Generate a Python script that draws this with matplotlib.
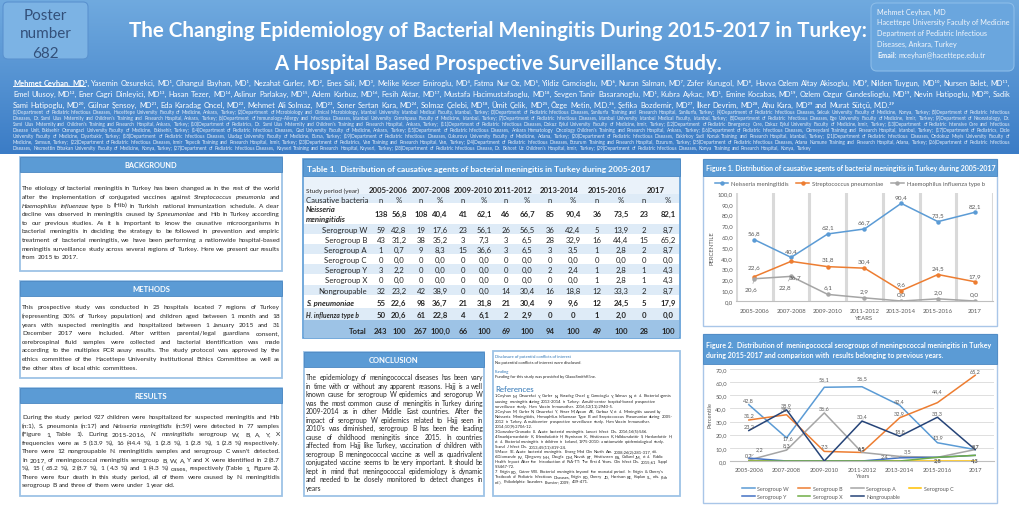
import numpy as np
import matplotlib
matplotlib.use('Agg')
import matplotlib.pyplot as plt
from matplotlib.patches import Rectangle, FancyBboxPatch

FONT = ['Lato', 'DejaVu Sans']
plt.rcParams['font.family'] = FONT

# ------------------------------------------------------------------ data
periods = ['2005-2006', '2007-2008', '2009-2010', '2011-2012', '2013-2014', '2015-2016', '2017']

nm_n = [138, 108, 41, 46, 85, 36, 23]
nm_pct = [56.8, 40.4, 62.1, 66.7, 90.4, 73.5, 82.1]
sp_n = [55, 98, 21, 21, 9, 12, 5]
sp_pct = [22.6, 36.7, 31.8, 30.4, 9.6, 24.5, 17.9]
hib_n = [50, 61, 4, 2, 0, 1, 0]
hib_pct = [20.6, 22.8, 6.1, 2.9, 0.0, 2.0, 0.0]
hib_pct_txt = ['20,6', '22,8', '6,1', '2,9', '0', '2,0', '0,0']

W_n = [59, 19, 23, 26, 36, 5, 2]
sg_W = [42.8, 17.6, 56.1, 56.5, 42.4, 13.9, 8.7]
B_n = [43, 38, 3, 3, 28, 16, 15]
sg_B = [31.2, 35.2, 7.3, 6.5, 32.9, 44.4, 65.2]
A_n = [1, 9, 15, 3, 3, 1, 2]
sg_A = [0.7, 8.3, 36.6, 6.5, 3.5, 2.8, 8.7]
C_n = [0, 0, 0, 0, 0, 0, 0]
sg_C = [0.0, 0.0, 0.0, 0.0, 0.0, 0.0, 0.0]
Y_n = [3, 0, 0, 0, 2, 1, 1]
sg_Y = [2.2, 0.0, 0.0, 0.0, 2.4, 2.8, 4.3]
X_n = [0, 0, 0, 0, 0, 1, 1]
sg_X = [0.0, 0.0, 0.0, 0.0, 0.0, 2.8, 4.3]
NG_n = [32, 42, 0, 14, 16, 12, 2]
sg_NG = [23.2, 38.9, 0.0, 30.4, 18.8, 33.3, 8.7]
total_n = [243, 267, 66, 69, 94, 49, 28]
total_pct_txt = ['100', '100,0', '100', '100', '100', '100', '100']

# ------------------------------------------------------------------ canvas
W, H = 1020, 510
fig = plt.figure(figsize=(W / 100, H / 100), dpi=100)
fig.patch.set_facecolor('white')
ax = fig.add_axes([0, 0, 1, 1])
ax.set_xlim(0, W)
ax.set_ylim(H, 0)
ax.axis('off')
R = fig.canvas.get_renderer()

_cache = {}


def tw(s, size, weight='normal', style='normal'):
    key = (s, round(size, 3), weight, style)
    if key not in _cache:
        t = ax.text(0, 0, s, fontsize=size, fontweight=weight, fontstyle=style)
        _cache[key] = t.get_window_extent(R).width
        t.remove()
    return _cache[key]


def space(size, weight='normal'):
    return tw('a a', size, weight) - tw('aa', size, weight)


def bl(y, size):
    # baseline position so that capitals are centred on y
    return y + 0.5 * size


def box(x0, y0, x1, y1, fc='none', ec='none', lw=0.8, z=1, rnd=None):
    if rnd:
        p = FancyBboxPatch((x0, y0), x1 - x0, y1 - y0,
                           boxstyle='round,pad=0,rounding_size=%g' % rnd,
                           fc=fc, ec=ec, lw=lw, zorder=z)
    else:
        p = Rectangle((x0, y0), x1 - x0, y1 - y0, fc=fc, ec=ec, lw=lw, zorder=z)
    ax.add_patch(p)


IT, BD = '*', '¤'


def parse(line):
    out = []
    it = bd = False
    for w in line.split():
        while w and w[0] in (IT, BD):
            if w[0] == IT:
                it = True
            else:
                bd = True
            w = w[1:]
        e_it = e_bd = False
        while w and w[-1] in (IT, BD):
            if w[-1] == IT:
                e_it = True
            else:
                e_bd = True
            w = w[:-1]
        out.append((w, it, bd))
        if e_it:
            it = False
        if e_bd:
            bd = False
    return out


def wid(w, it, b, size):
    return tw(w, size, 'bold' if b else 'normal', 'italic' if it else 'normal')


def natural(line, size):
    ws = parse(line)
    return sum(wid(w, i, b, size) for w, i, b in ws) + space(size) * (len(ws) - 1)


def fit_size(lines, width, base=10.0):
    m = max(natural(l, base) for l in lines)
    return base * width / m * 0.995


def para(lines, x0, x1, y0, dy, size, color='#262626', justify=True, last_left=True, z=5):
    pos = []
    for i, line in enumerate(lines):
        y = y0 + i * dy
        ws = parse(line)
        wd = [wid(w, it, b, size) for w, it, b in ws]
        if justify and len(ws) > 1 and not (last_left and i == len(lines) - 1):
            gap = (x1 - x0 - sum(wd)) / (len(ws) - 1)
        else:
            gap = space(size)
        x = x0
        for (w, it, b), d in zip(ws, wd):
            ax.text(x, bl(y, size), w, fontsize=size, fontweight='bold' if b else 'normal',
                    fontstyle='italic' if it else 'normal', color=color,
                    va='baseline', ha='left', zorder=z)
            pos.append((w, x, x + d, y, b))
            x += d + gap
    return pos


def fit_text(x0, x1, y, s, weight='normal', style='normal', color='#262626', z=6):
    size = 10 * (x1 - x0) / tw(s, 10, weight, style)
    ax.text(x0, bl(y, size), s, fontsize=size, fontweight=weight, fontstyle=style, color=color,
            va='baseline', ha='left', zorder=z)
    return size


def wrap(text, width, size):
    words = text.split()
    lines, cur, curw = [], [], 0
    sp = space(size)
    for w in words:
        d = tw(w, size)
        if cur and curw + sp + d > width:
            lines.append(' '.join(cur))
            cur, curw = [w], d
        else:
            curw = d if not cur else curw + sp + d
            cur.append(w)
    if cur:
        lines.append(' '.join(cur))
    return lines


# ------------------------------------------------------------------ header band
top = np.array([0x70, 0xaa, 0xdf]) / 255
bot = np.array([0x3b, 0x7c, 0xc6]) / 255
g = np.linspace(0, 1, 200)[:, None, None]
grad = top * (1 - g) + bot * g
ax.imshow(grad, extent=(0, W, 155, 0), aspect='auto', zorder=0, interpolation='bilinear')
ax.set_xlim(0, W)
ax.set_ylim(H, 0)

box(3, 3, 88, 60, fc='#7cb3e4', ec='#5a92cf', lw=0.8, z=1, rnd=5)
for yy, s in zip([15, 33, 52], ['Poster', 'number', '682']):
    ax.text(45.5, bl(yy, 11), s, fontsize=11, color='#33507a', ha='center', va='baseline', zorder=3)

box(871, 4, 1014, 72, fc='#6aa6de', ec='#8cbde9', lw=0.8, z=1, rnd=6)
cs = 10 * 132 / tw('Hacettepe University Faculty of Medicine', 10)
contact = ['Mehmet Ceyhan, MD', 'Hacettepe University Faculty of Medicine',
           'Department of Pediatric Infectious', 'Diseases, Ankara, Turkey']
for i, s in enumerate(contact):
    ax.text(877, bl(12 + i * 10.8, cs), s, fontsize=cs, color='#f2f6fb', va='baseline', zorder=3)
ax.text(877, bl(55, cs), 'Email:', fontsize=cs, fontweight='bold', color='#f2f6fb', va='baseline', zorder=3)
ax.text(877 + tw('Email: ', cs, 'bold'), bl(55, cs), 'mceyhan@hacettepe.edu.tr', fontsize=cs,
        color='#f2f6fb', va='baseline', zorder=3)

t1 = 'The Changing Epidemiology of Bacterial Meningitis During 2015-2017 in Turkey:'
t2 = 'A Hospital Based Prospective Surveillance Study.'
ts_ = 10 * 736 / tw(t1, 10, 'bold')
ax.text(498, bl(30, ts_), t1, fontsize=ts_, fontweight='bold', color='white', ha='center', va='baseline', zorder=3)
ax.text(498, bl(63, ts_), t2, fontsize=ts_, fontweight='bold', color='white', ha='center', va='baseline', zorder=3)

authors = [
    '¤Mehmet Ceyhan, MD¹,¤ Yasemin Ozsurekci, MD¹, Cihangul Bayhan, MD¹, Nezahat Gurler, MD², Enes Sali, MD³, '
    'Melike Keser Emiroglu, MD⁴, Fatma Nur Oz, MD⁵, Yildiz Camcioglu, MD⁶, Nuran Salman, MD⁷, Zafer Kurugol, MD⁸, '
    'Havva Ozlem Altay Akisoglu, MD⁹, Nilden Tuygun, MD¹⁰, Nursen Belet, MD¹¹,',
    'Emel Ulusoy, MD¹², Ener Cagri Dinleyici, MD¹³, Hasan Tezer, MD¹⁴, Aslinur Parlakay, MD¹⁵, Adem Karbuz, MD¹⁶, '
    'Fesih Aktar, MD¹⁷, Mustafa Hacimustafaoglu, MD¹⁸, Sevgen Tanir Basaranoglu, MD¹, Kubra Aykac, MD¹, '
    'Emine Kocabas, MD¹⁹, Ozlem Ozgur Gundeslioglu, MD¹⁹, Nevin Hatipoglu, MD²⁰, Sadik',
    'Sami Hatipoglu, MD²⁰, Gülnar Şensoy, MD²¹, Eda Karadag Oncel, MD²², Mehmet Ali Solmaz, MD²³, '
    'Soner Sertan Kara, MD²⁴, Solmaz Çelebi, MD¹⁸, Ümit Çelik, MD²⁵, Özge Metin, M.D.²⁶, Şefika Bozdemir, MD²⁷, '
    'İlker Devrim, MD²⁸, Ahu Kara, MD²⁹ and Murat Sütçü, M.D.²⁹',
]
asz = fit_size(authors[:2], 997)
pos = para(authors, 13, 1010, 83, 11, asz, color='white', justify=True, last_left=True)
bx = [p for p in pos if p[4]]
ax.plot([bx[0][1], bx[-1][2] - tw('¹,', asz, 'bold')], [bx[0][3] + asz * 0.5 + 1.2] * 2,
        color='white', lw=0.7, zorder=5)

affil = (
    "(1)Department of Pediatric Infectious Diseases, Hacettepe University Faculty of Medicine, Ankara, Turkey; "
    "(2)Department of Microbiology and Clinical Microbiology, Istanbul University Istanbul Medical Faculty, Istanbul, Turkey; "
    "(3)Department of Pediatric Infectious Diseases, Sanliurfa Training and Research Hospital, Sanliurfa, Turkey; "
    "(4)Department of Pediatric Infectious Diseases, Selcuk University Faculty of Medicine, Konya, Turkey; "
    "(5)Department of Pediatric Infectious Diseases, Dr. Sami Ulus Maternity and Children's Training and Research Hospital, Ankara, Turkey; "
    "(6)Department of Immunology-Allergy and Infectious Diseases, Istanbul University Cerrahpasa Faculty of Medicine, Istanbul, Turkey; "
    "(7)Department of Pediatric Infectious Diseases, Istanbul University Istanbul Medical Faculty, Istanbul, Turkey; "
    "(8)Department of Pediatric Infectious Diseases, Ege University Faculty of Medicine, Izmir, Turkey; "
    "(9)Department of Neonatology, Dr. Sami Ulus Maternity and Children's Training and Research Hospital, Ankara, Turkey; "
    "(10)Department of Pediatrics, Dr. Sami Ulus Maternity and Children's Training and Research Hospital, Ankara, Turkey; "
    "(11)Department of Pediatric Infectious Diseases, Dokuz Eylul University Faculty of Medicine, Izmir, Turkey; "
    "(12)Department of Pediatric Emergency Care, Dokuz Eylul University Faculty of Medicine, Izmir, Turkey; "
    "(13)Department of Pediatric Intensive Care and Infectious Disease Unit, Eskisehir Osmangazi University Faculty of Medicine, Eskisehir, Turkey; "
    "(14)Department of Pediatric Infectious Diseases, Gazi University Faculty of Medicine, Ankara, Turkey; "
    "(15)Department of Pediatric Infectious Diseases, Ankara Hematology Oncology Children's Training and Research Hospital, Ankara, Turkey; "
    "(16)Department of Pediatric Infectious Diseases, Okmeydani Training and Research Hospital, Istanbul, Turkey; "
    "(17)Department of Pediatrics, Dicle University Faculty of Medicine, Diyarbakir, Turkey; "
    "(18)Department of Pediatric Infectious Diseases, Uludag University Faculty of Medicine, Bursa, Turkey; "
    "(19)Department of Pediatric Infectious Diseases, Cukurova University Faculty of Medicine, Adana, Turkey; "
    "(20)Department of Pediatric Infectious Diseases, Bakirkoy Sadi Konuk Training and Research Hospital, Istanbul, Turkey; "
    "(21)Department of Pediatric Infectious Diseases, Ondokuz Mayis University Faculty of Medicine, Samsun, Turkey; "
    "(22)Department of Pediatric Infectious Diseases, Izmir Tepecik Training and Research Hospital, Izmir, Turkey; "
    "(23)Department of Pediatrics, Van Training and Research Hospital, Van, Turkey; "
    "(24)Department of Pediatric Infectious Diseases, Erzurum Training and Research Hospital, Erzurum, Turkey; "
    "(25)Department of Pediatric Infectious Diseases, Adana Numune Training and Research Hospital, Adana, Turkey; "
    "(26)Department of Pediatric Infectious Diseases, Necmettin Erbakan University Faculty of Medicine, Konya, Turkey; "
    "(27)Department of Pediatric Infectious Diseases, Kayseri Training and Research Hospital, Kayseri, Turkey; "
    "(28)Department of Pediatric Infectious Disease, Dr. Behcet Uz Children's Hospital, Izmir, Turkey; "
    "(29)Department of Pediatric Infectious Diseases, Konya Training and Research Hospital, Konya, Turkey"
)
fsz = 10 * 7 * 990 / natural(affil, 10) * 0.97
alines = wrap(affil, 997, fsz)
while len(alines) > 7:
    fsz *= 0.98
    alines = wrap(affil, 997, fsz)
para(alines, 13, 1010, 112, 6, fsz, color='#e3edf9', justify=True, last_left=True)

# ------------------------------------------------------------------ panels
PB = '#5b9bd5'
PE = '#4a87c2'
BORD = '#9dc3e6'


def panel(x0, y0, x1, y1, hb, title, tw_px):
    box(x0, y0, x1, y1, fc='white', ec=BORD, lw=1.3, z=1)
    box(x0, y0, x1, hb, fc=PB, ec=PE, lw=0.6, z=2)
    s = 10 * tw_px / tw(title, 10, 'bold')
    ax.text((x0 + x1) / 2, bl((y0 + hb) / 2, s), title, fontsize=s, fontweight='bold', color='white',
            ha='center', va='baseline', zorder=3)


panel(20, 158, 282, 272, 173, 'BACKGROUND', 53)
panel(20, 282, 282, 379, 297, 'METHODS', 38)
panel(20, 389, 282, 497, 404, 'RESULTS', 33)
panel(304, 353, 484, 497, 368, 'CONCLUSION', 50)

background = [
    'The etiology of bacterial meningitis in Turkey has been changed as in the rest of the world',
    'after the implementation of conjugated vaccines against *Streptococcus pneumonia* and',
    '*Haemophilus influenzae* type b (Hib) in Turkish national immunization schedule. A clear',
    'decline was observed in meningitis caused by *S.pneumoniae* and Hib in Turkey according',
    'to our previous studies. As it is important to know the causative microorganisms in',
    'bacterial meningitis in deciding the strategy to be followed in prevention and empiric',
    'treatment of bacterial meningitis, we have been performing a nationwide hospital-based',
    'meningitis surveillance study across several regions of Turkey. Here we present our results',
    'from 2015 to 2017.',
]
methods = [
    'This prospective study was conducted in 25 hospitals located 7 regions of Turkey',
    '(representing 30% of Turkey population) and children aged between 1 month and 18',
    'years with suspected meningitis and hospitalized between 1 January 2015 and 31',
    'December 2017 were included. After written parental/legal guardians consent,',
    'cerebrospinal fluid samples were collected and bacterial identification was made',
    'according to the multiplex PCR assay results. The study protocol was approved by the',
    'ethics committee of the Hacettepe University Institutional Ethics Committee as well as',
    'the other sites of local ethic committees.',
]
results = [
    'During the study period 927 children were hospitalized for suspected meningitis and Hib',
    '(n:1), S. pneumonia (n:17) and *Neisseria meningitidis* (n:59) were detected in 77 samples',
    '(Figure 1, Table 1). During 2015-2016, *N. meningitidis* serogroup W, B, A, Y, X',
    'frequencies were as 5 (13.9 %), 16 (44.4 %), 1 (2.8 %), 1 (2.8 %), 1 (2.8 %) respectively.',
    "There were 12 nongroupable N. meningitidis samples and serogroup C wasn't detected.",
    'In 2017, of meningococcal meningitis serogroup B, W, A, Y and X were identified in 2 (8.7',
    '%), 15 ( 65.2 %), 2 (8.7 %), 1 ( 4.3 %) and 1 (4.3 %) cases, respectively (Table 1, Figure 2).',
    'There were four death in this study period, all of them were caused by N. meningitidis',
    'serogroup B and three of them were under 1 year old.',
]
conclusion = [
    'The epidemiology of meningococcal diseases has been vary',
    'in time with or without any apparent reasons. Hajj is a well',
    'known cause for serogroup W epidemics and serogorup W',
    'was the most common cause of meningitis in Turkey during',
    '2009-2014 as in other Middle East countries. After the',
    'impact of serogroup W epidemics related to Hajj seen in',
    "2010's was diminished, serogroup B has been the leading",
    'cause of childhood meningitis since 2015. In countries',
    'affected from Hajj like Turkey, vaccination of children with',
    'serogroup B meningococcal vaccine as well as quadrivalent',
    'conjugated vaccine seems to be very important. It should be',
    'kept in mind that meningococcal epidemiology is dynamic',
    'and needed to be closely monitored to detect changes in',
    'years',
]
bsz = min(fit_size(background[:-1], 258), fit_size(methods[:-1], 258), fit_size(results[:-1], 258))
para(background, 22, 280, 188, 8.6, bsz)
para(methods, 22, 280, 307, 8.6, bsz)
para(results, 22, 280, 417, 8.5, bsz)
csz = fit_size(conclusion[:-1], 177)
para(conclusion, 306, 483, 378, 8.5, csz)

# references box
box(493, 352, 680, 497, fc='white', ec=BORD, lw=1.3, z=1)
refs = [
    '1.Ceyhan M, Ozsurekci Y, Gurler N, Karadag Oncel E, Camcioglu Y, Salman N, et al. Bacterial agents',
    'causing meningitis during 2013-2014 in Turkey: A multi-center hospital-based prospective',
    'surveillance study. Hum Vaccin Immunother. 2016;12(11):2940-5.',
    '2.Ceyhan M, Gurler N, Ozsurekci Y, Keser M, Aycan AE, Gurbuz V, et al. Meningitis caused by',
    'Neisseria Meningitidis, Hemophilus Influenzae Type B and Streptococcus Pneumoniae during 2005-',
    '2012 in Turkey. A multicenter prospective surveillance study. Hum Vaccin Immunother.',
    '2014;10(9):2706-12.',
    '3.Gonzalez-Granado LI. Acute bacterial meningitis. Lancet Infect Dis. 2016;16(5):546.',
    '4.Snaebjarnardottir K, Erlendsdottir H, Reynisson IK, Kristinsson K, Halldorsdottir S, Hardardottir H,',
    'et al. Bacterial meningitis in children in Iceland, 1975-2010: a nationwide epidemiological study.',
    'Scand J Infect Dis. 2013;45(11):819-24.',
    '5.Mace SE. Acute bacterial meningitis. Emerg Med Clin North Am. 2008;26(2):281-317, viii.',
    '6.Diomande FV, Djingarey MH, Daugla DM, Novak RT, Kristiansen PA, Collard JM, et al. Public',
    'Health Impact After the Introduction of PsA-TT: The First 4 Years. Clin Infect Dis. 2015;61 Suppl',
    '5:S467-72.',
    "7. Feigin RD, Cutrer WB. Bacterial meningitis beyond the neonatal period. In: Feigin & Cherry's",
    'Textbook of Pediatric Infectious Diseases, Feigin RD, Cherry JD, Harrison RE, Kaplan SL, eds. (6th',
    'ed.). Philadelphia: Saunders Elsevier; 2009; 439-471.',
]
rsz = fit_size(refs, 183)
para(refs, 495, 678, 396, 5.05, rsz, justify=False)
BLUE_T = '#2e75b6'


def rt(y, s, c, size):
    ax.text(495, bl(y, size), s, fontsize=size, color=c, va='baseline', zorder=5)


rt(357, 'Disclosure of potential conflicts of interest', BLUE_T, rsz)
rt(362.5, 'No potential conflicts of interest were disclosed.', '#262626', rsz)
rt(371.5, 'Funding', BLUE_T, rsz)
rt(377, 'Funding for this study was provided by GlaxoSmithKline.', '#262626', rsz)
rt(389, 'References', BLUE_T, rsz * 1.9)

# ------------------------------------------------------------------ table
box(303, 160, 680, 339, fc='white', ec=PB, lw=1.2, z=1)
box(303, 160, 680, 177, fc=PB, ec=PE, lw=0.6, z=2)
fit_text(307, 652, 168.5, 'Table 1.  Distribution of causative agents of bacterial meningitis in Turkey during 2005-2017',
         weight='bold', color='white')

LB = '#deebf7'
bands = [(177, 195, '#eaf2fa'), (195, 204, LB), (204, 225, 'white'), (225, 235, LB), (235, 245, 'white'),
         (245, 255, LB), (255, 265, 'white'), (265, 275, LB), (275, 286, 'white'), (286, 296, LB),
         (296, 309, 'white'), (309, 321, LB), (321, 339, '#9dc3e6')]
for y0, y1, c in bands:
    box(304, y0, 679.5, y1, fc=c, ec='none', z=1.5)

ncol_x = [381, 421, 463, 506, 550, 597, 644]
pcol_x = [399, 440, 484, 527, 573, 621, 668]
year_x = [388, 431, 473, 513, 559, 607, 656]
TS = 5.6
TC = '#262626'


def tt(x, y, s, ha='center', weight='normal', style='normal', size=TS):
    ax.text(x, bl(y, size), s, fontsize=size, ha=ha, va='baseline', fontweight=weight, fontstyle=style,
            color=TC, zorder=4)


def pfmt(v):
    return ('%.1f' % v).replace('.', ',')


fit_text(306, 359, 190.5, 'Study period (year)', color=TC)
for x, p in zip(year_x, periods):
    tt(x, 190.5, p, weight='bold')
tt(306, 200, 'Causative bacteria', ha='left')
for xn, xp in zip(ncol_x, pcol_x):
    tt(xn, 200, 'n')
    tt(xp, 200, '%')

tt(306, 209.5, 'Neisseria', ha='left', weight='bold', style='italic')
tt(306, 219.5, 'meningitidis', ha='left', weight='bold', style='italic')
for i in range(7):
    tt(ncol_x[i], 214.5, str(nm_n[i]), weight='bold')
    tt(pcol_x[i], 214.5, pfmt(nm_pct[i]), weight='bold')

sg_rows = [('Serogroup W', W_n, sg_W, 230), ('Serogroup B', B_n, sg_B, 240), ('Serogroup A', A_n, sg_A, 250),
           ('Serogroup C', C_n, sg_C, 260), ('Serogroup Y', Y_n, sg_Y, 270), ('Serogroup X', X_n, sg_X, 280.5),
           ('Nongroupable', NG_n, sg_NG, 291)]
for lab_, nn, pp, y in sg_rows:
    tt(367, y, lab_, ha='right')
    for i in range(7):
        tt(ncol_x[i], y, str(nn[i]))
        tt(pcol_x[i], y, pfmt(pp[i]))

tt(306, 303, 'S. pneumoniae', ha='left', weight='bold', style='italic')
for i in range(7):
    tt(ncol_x[i], 303, str(sp_n[i]), weight='bold')
    tt(pcol_x[i], 303, pfmt(sp_pct[i]), weight='bold')
tt(306, 315.5, 'H. influenza type b', ha='left', weight='bold', style='italic', size=4.8)
for i in range(7):
    tt(ncol_x[i], 315.5, str(hib_n[i]), weight='bold')
    tt(pcol_x[i], 315.5, hib_pct_txt[i], weight='bold')
tt(367, 331, 'Total', ha='right', weight='bold')
for i in range(7):
    tt(ncol_x[i], 331, str(total_n[i]), weight='bold')
    tt(pcol_x[i], 331, total_pct_txt[i], weight='bold')

# ------------------------------------------------------------------ figure 1
box(703, 160, 997, 327, fc='white', ec='#a9c6e8', lw=1.0, z=1)
box(703, 160, 997, 177, fc=PB, ec=PE, lw=0.6, z=2)
fit_text(706, 996, 168.5,
         'Figure 1. Distribution of causative agents of bacterial meningitis in Turkey during 2005-2017',
         weight='bold', color='white')

GR = '#595959'
a1 = fig.add_axes([736 / W, 1 - 302 / H, 257 / W, 108 / H])
a1.set_facecolor('none')
xs = np.arange(len(periods))
for b in np.arange(-0.5, 7, 1):
    a1.axvline(b, color='#d9d9d9', lw=2.2, zorder=0)
l1, = a1.plot(xs, nm_pct, color='#5b9bd5', lw=1.1, marker='o', ms=2.2, label='Neisseria meningitidis')
l2, = a1.plot(xs, sp_pct, color='#ed7d31', lw=1.1, marker='o', ms=2.2, label='Streptococcus pneumoniae')
l3, = a1.plot(xs, hib_pct, color='#a5a5a5', lw=1.1, marker='o', ms=2.2, label='Haemophilus influenza type b')
a1.set_xlim(-0.5, 6.5)
a1.set_ylim(0, 100)
a1.set_yticks(range(0, 101, 10))
a1.set_yticklabels([pfmt(v) for v in range(0, 101, 10)])
a1.set_xticks(xs)
a1.set_xticklabels(periods)
a1.tick_params(length=0, labelsize=4.3, colors=GR, pad=2.2)
a1.tick_params(axis='x', pad=5)
for s in ['top', 'right', 'left']:
    a1.spines[s].set_visible(False)
a1.spines['bottom'].set_color('#bfbfbf')
a1.spines['bottom'].set_linewidth(0.8)


def lab(axx, x, y, dx, dy, txt, size, leader=False, weight='normal'):
    kw = dict(arrowprops=dict(arrowstyle='-', color='#a6a6a6', lw=0.5, shrinkA=0, shrinkB=1)) if leader else {}
    axx.annotate(txt, (x, y), xytext=(dx * 0.72, dy * 0.72), textcoords='offset points', ha='center',
                 va='center', fontsize=size, color=GR, fontweight=weight, annotation_clip=False, **kw)


for i, v in enumerate(nm_pct):
    lab(a1, i, v, 0, 7, pfmt(v), 4.6)
sp_off = [(0, 10), (4, -15), (0, 8), (0, 7), (0, 7), (0, 7), (0, 6)]
for i, v in enumerate(sp_pct):
    lab(a1, i, v, sp_off[i][0], sp_off[i][1], pfmt(v), 4.6)
hib_off = [(-3, -10), (-6, -10), (0, 8), (0, 7), (0, 7), (0, 7), (0, 7)]
for i, v in enumerate(hib_pct):
    lab(a1, i, v, hib_off[i][0], hib_off[i][1], pfmt(v), 4.6, leader=(i < 2))

a1.legend(handles=[l1, l2, l3], loc='center', bbox_to_anchor=(850 / W, 1 - 184.5 / H),
          bbox_transform=fig.transFigure, ncol=3, frameon=False, fontsize=4.3, handlelength=2.2,
          columnspacing=1.2, handletextpad=0.5, labelcolor=GR, borderaxespad=0, borderpad=0)
ax.text(712, 248, 'PERCENTILE', rotation=90, fontsize=4.3, color=GR, ha='center', va='center')
ax.text(864, 319, 'YEARS', fontsize=4.3, color=GR, ha='center', va='center')

# ------------------------------------------------------------------ figure 2
box(703, 335, 997, 504, fc='white', ec='#a9c6e8', lw=1.0, z=1)
box(703, 335, 997, 365, fc=PB, ec=PE, lw=0.6, z=2)
f2a = 'Figure 2.  Distribution of  meningococcal serogroups of meningococcal meningitis in Turkey'
f2b = 'during 2015-2017 and comparison with  results belonging to previous years.'
f2s = fit_text(706, 990, 345.5, f2a, weight='bold', color='white')
ax.text(706, bl(355.5, f2s), f2b, fontsize=f2s, fontweight='bold', color='white', va='baseline', zorder=6)

a2 = fig.add_axes([730 / W, 1 - 462 / H, 264 / W, 92 / H])
a2.set_facecolor('none')
series2 = [('Serogroup W', sg_W, '#5b9bd5'), ('Serogroup B', sg_B, '#ed7d31'), ('Serogroup A', sg_A, '#a5a5a5'),
           ('Serogroup C', sg_C, '#ffc000'), ('Serogroup Y', sg_Y, '#4472c4'), ('Serogroup X', sg_X, '#70ad47'),
           ('Nongroupable', sg_NG, '#264478')]
hd = {}
for name, vals, col in series2:
    hd[name], = a2.plot(xs, vals, color=col, lw=1.1, label=name)
a2.set_xlim(-0.5, 6.5)
a2.set_ylim(0, 70)
a2.set_yticks(range(0, 71, 10))
a2.set_yticklabels([pfmt(v) for v in range(0, 71, 10)])
a2.set_xticks(xs)
a2.set_xticklabels(periods)
a2.grid(axis='y', color='#d9d9d9', lw=0.6)
a2.set_axisbelow(True)
a2.tick_params(length=0, labelsize=4.2, colors=GR, pad=2.2)
a2.tick_params(axis='x', pad=4)
for s in ['top', 'right', 'left']:
    a2.spines[s].set_visible(False)
a2.spines['bottom'].set_color('#bfbfbf')
a2.spines['bottom'].set_linewidth(0.8)

L2 = 4.0
w_off = [(0, 5), (1, 0), (0, 9), (0, 9), (0, 5), (1, 6), (0, 4)]
for i, v in enumerate(sg_W):
    lab(a2, i, v, w_off[i][0], w_off[i][1], pfmt(v), L2, weight='bold' if i == 6 else 'normal')
b_off = [(0, 5), (0, 6), (0, 6), (0, 5), (0, 5), (0, 12), (0, 5)]
for i, v in enumerate(sg_B):
    lab(a2, i, v, b_off[i][0], b_off[i][1], pfmt(v), L2)
a_spec = [(0, 0, 5, False), (1, 0, 5, False), (2, 0, 5, False), (3, 0, 5, False), (4, 8, 6, True), (5, 0, -2, False)]
for i, dx, dy, ld in a_spec:
    lab(a2, i, sg_A[i], dx, dy, pfmt(sg_A[i]), L2, leader=ld, weight='bold' if i == 5 else 'normal')
y_spec = [(0, 11, 9, True), (4, -15, 2, True), (6, 0, -4, False)]
for i, dx, dy, ld in y_spec:
    lab(a2, i, sg_Y[i], dx, dy, pfmt(sg_Y[i]), L2, leader=ld, weight='bold' if i == 6 else 'normal')
ng_off = {0: (0, 5), 1: (0, 5), 3: (0, 5), 4: (0, 6), 5: (0, 5)}
for i, (dx, dy) in ng_off.items():
    lab(a2, i, sg_NG[i], dx, dy, pfmt(sg_NG[i]), L2)

order = ['Serogroup W', 'Serogroup Y', 'Serogroup B', 'Serogroup X', 'Serogroup A', 'Nongroupable', 'Serogroup C']
a2.legend(handles=[hd[k] for k in order], loc='center', bbox_to_anchor=(848 / W, 1 - 493.5 / H),
          bbox_transform=fig.transFigure, ncol=4, frameon=False, fontsize=3.9, handlelength=2.3,
          columnspacing=1.6, handletextpad=0.5, labelcolor=GR, borderaxespad=0, borderpad=0,
          labelspacing=0.55)
ax.text(710, 415, 'Percentile', rotation=90, fontsize=4.2, color=GR, ha='center', va='center')
ax.text(862, 477, 'Years', fontsize=4.2, color=GR, ha='center', va='center')

fig.savefig('out.png', dpi=100)
